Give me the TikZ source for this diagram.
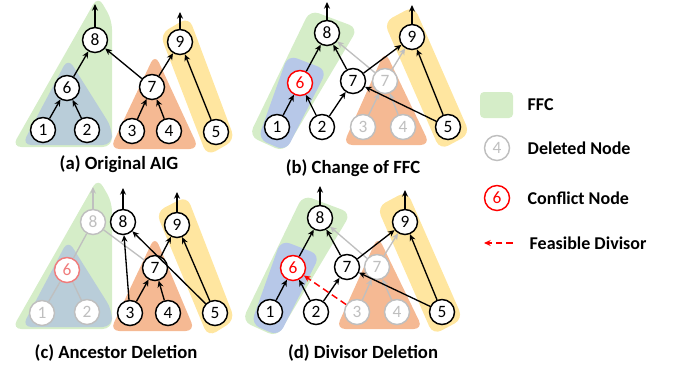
\documentclass[tikz,border=0pt]{standalone}
\usepackage{fontspec}
\setmainfont{Carlito}
\usetikzlibrary{arrows.meta}

\definecolor{ffcgreen}{HTML}{D5EDC8}
\definecolor{ffcblue}{HTML}{B9CDD9}
\definecolor{ffclav}{HTML}{B7C8E8}
\definecolor{ffcorange}{HTML}{F5B993}
\definecolor{ffcyellow}{HTML}{FFE6A0}
\definecolor{delgray}{HTML}{BFBFBF}
\definecolor{softred}{HTML}{F07C7C}

\tikzset{
  gate/.style={circle,draw,line width=1.1pt,fill=white,minimum size=18.75pt,
    inner sep=0pt,font=\fontsize{13}{13}\selectfont},
  deleted/.style={gate,draw=delgray,text=delgray},
  conflict/.style={gate,draw=red,text=red},
  wire/.style={-{Stealth[length=5pt,width=4.5pt]},line width=1pt},
  delwire/.style={wire,draw=delgray},
  divisor/.style={-{Stealth[length=5pt,width=4.5pt]},line width=1.1pt,red,dash pattern=on 5pt off 3pt},
  region/.style={rounded corners=7pt},
  caption/.style={font=\fontsize{14}{14}\selectfont\bfseries},
  legend/.style={anchor=west,font=\fontsize{13.5}{13.5}\selectfont\bfseries},
}

\begin{document}
\begin{tikzpicture}[x=0.75pt,y=-0.75pt]
  \useasboundingbox (0,0) rectangle (681,372);

  % cones behind the graphs
  \fill[ffcgreen,region]  (12,147) -- (98,-4) -- (112,20) -- (112,147) -- cycle;
  \fill[ffcblue,region]   (22,145) -- (68,58) -- (112,128) -- (112,145) -- cycle;
  \fill[ffcorange,region] (110,149) -- (155,54) -- (199,149) -- cycle;
  \fill[ffcyellow,region] (160,34) -- (189,17) -- (235,140) -- (207,156) -- cycle;

  \fill[ffcgreen,region]  (310,10) -- (358,28) -- (284,152) -- (249,136) -- cycle;
  \fill[ffclav,region]    (288,55) -- (327,70) -- (286,151) -- (258,139) -- cycle;
  \fill[ffcorange,region] (343,145) -- (385,51) -- (430,145) -- cycle;
  \fill[ffcyellow,region] (384,22) -- (414,6) -- (470,134) -- (440,150) -- cycle;

  \fill[ffcgreen,region]  (12,329) -- (98,178) -- (112,202) -- (112,329) -- cycle;
  \fill[ffcblue,region]   (22,327) -- (68,240) -- (112,310) -- (112,327) -- cycle;
  \fill[ffcorange,region] (110,331) -- (155,236) -- (195,331) -- cycle;
  \fill[ffcyellow,region] (156,212) -- (187,196) -- (235,320) -- (208,337) -- cycle;

  \fill[ffcgreen,region]  (303,195) -- (351,213) -- (277,337) -- (242,321) -- cycle;
  \fill[ffclav,region]    (281,240) -- (320,255) -- (279,336) -- (251,324) -- cycle;
  \fill[ffcorange,region] (336,329) -- (378,236) -- (423,329) -- cycle;
  \fill[ffcyellow,region] (377,207) -- (407,191) -- (463,319) -- (433,335) -- cycle;

  % (a)
  \node[gate] (a8) at (95,40)  {8};
  \node[gate] (a9) at (180,42) {9};
  \node[gate] (a6) at (67,88)  {6};
  \node[gate] (a7) at (152,87) {7};
  \node[gate] (a1) at (43,130) {1};
  \node[gate] (a2) at (87,130) {2};
  \node[gate] (a3) at (132,131) {3};
  \node[gate] (a4) at (169,131) {4};
  \node[gate] (a5) at (216,132) {5};
  \coordinate (a8o) at (95,4);
  \coordinate (a9o) at (180,12);

  \draw[wire] (a1) -- (a6);
  \draw[wire] (a2) -- (a6);
  \draw[wire] (a6) -- (a8);
  \draw[wire] (a7) -- (a8);
  \draw[wire] (a7) -- (a9);
  \draw[wire] (a3) -- (a7);
  \draw[wire] (a4) -- (a7);
  \draw[wire] (a5) -- (a9);
  \draw[wire] (a8) -- (a8o);
  \draw[wire] (a9) -- (a9o);

  % (b)
  \node[gate]     (b8)  at (327,33)  {8};
  \node[gate]     (b9)  at (412,37)  {9};
  \node[conflict] (b6)  at (300,83)  {6};
  \node[gate]     (b7)  at (353,81)  {7};
  \node[deleted]  (b7g) at (385,81)  {7};
  \node[gate]     (b1)  at (277,127) {1};
  \node[gate]     (b2)  at (322,127) {2};
  \node[deleted]  (b3)  at (363,127) {3};
  \node[deleted]  (b4)  at (403,127) {4};
  \node[gate]     (b5)  at (448,127) {5};
  \coordinate (b8o) at (327,2);
  \coordinate (b9o) at (412,5);

  \draw[delwire] (b7g) -- (b8);
  \draw[delwire] (b7g) -- (b9);
  \draw[delwire] (b3) -- (b7g);
  \draw[delwire] (b4) -- (b7g);
  \draw[wire] (b1) -- (b6);
  \draw[wire] (b2) -- (b6);
  \draw[wire] (b6) -- (b8);
  \draw[wire] (b7) -- (b8);
  \draw[wire] (b7) -- (b9);
  \draw[wire] (b2) -- (b7);
  \draw[wire] (b5) -- (b7);
  \draw[wire] (b5) -- (b9);
  \draw[wire] (b8) -- (b8o);
  \draw[wire] (b9) -- (b9o);

  % (c)
  \node[deleted] (c8g) at (93,222) {8};
  \node[gate]    (c8)  at (123,222) {8};
  \node[gate]    (c9)  at (177,225) {9};
  \node[gate,draw=softred,text=softred] (c6) at (67,270) {6};
  \node[gate]    (c7)  at (155,268) {7};
  \node[deleted] (c1)  at (42,313)  {1};
  \node[deleted] (c2)  at (87,312)  {2};
  \node[gate]    (c3)  at (130,313) {3};
  \node[gate]    (c4)  at (168,313) {4};
  \node[gate]    (c5)  at (215,313) {5};
  \coordinate (c8go) at (93,187);
  \coordinate (c8o)  at (123,188);
  \coordinate (c9o)  at (177,192);

  \draw[delgray,line width=1pt] (c1) -- (c6);
  \draw[delgray,line width=1pt] (c2) -- (c6);
  \draw[delgray,line width=1pt] (c6) -- (c8g);
  \draw[delgray,line width=1pt] (c7) -- (c8g);
  \draw[delwire] (c8g) -- (c8go);
  \draw[wire] (c3) -- (c8);
  \draw[wire] (c3) -- (c7);
  \draw[wire] (c4) -- (c7);
  \draw[wire] (c7) -- (c9);
  \draw[wire] (c5) -- (c9);
  \draw[wire] (c5) -- (c8);
  \draw[wire] (c8) -- (c8o);
  \draw[wire] (c9) -- (c9o);

  % (d)
  \node[gate]     (d8)  at (320,218) {8};
  \node[gate]     (d9)  at (405,222) {9};
  \node[conflict] (d6)  at (293,268) {6};
  \node[gate]     (d7)  at (347,267) {7};
  \node[deleted]  (d7g) at (377,267) {7};
  \node[gate]     (d1)  at (270,312) {1};
  \node[gate]     (d2)  at (316,312) {2};
  \node[deleted]  (d3)  at (357,312) {3};
  \node[deleted]  (d4)  at (397,312) {4};
  \node[gate]     (d5)  at (442,312) {5};
  \coordinate (d8o) at (320,186);
  \coordinate (d9o) at (405,190);

  \draw[delwire] (d7g) -- (d8);
  \draw[delwire] (d7g) -- (d9);
  \draw[delwire] (d3) -- (d7g);
  \draw[delwire] (d4) -- (d7g);
  \draw[wire] (d1) -- (d6);
  \draw[wire] (d2) -- (d6);
  \draw[wire] (d6) -- (d8);
  \draw[wire] (d7) -- (d8);
  \draw[wire] (d7) -- (d9);
  \draw[wire] (d2) -- (d7);
  \draw[wire] (d5) -- (d7);
  \draw[wire] (d5) -- (d9);
  \draw[wire] (d8) -- (d8o);
  \draw[wire] (d9) -- (d9o);
  \draw[divisor] (d3) -- (d6);

  % captions
  \node[caption] (capa) at (119,164) {(a) Original AIG};
  \node[caption] (capb) at (353,168) {(b) Change of FFC};
  \node[caption] (capc) at (116,353) {(c) Ancestor Deletion};
  \node[caption] (capd) at (363,353) {(d) Divisor Deletion};

  % legend
  \fill[ffcgreen,rounded corners=3pt] (480,92) rectangle (513,118);
  \node[deleted]  (legdel) at (497,148) {4};
  \node[conflict] (legcon) at (497,198) {6};
  \coordinate (legfrom) at (513,243);
  \coordinate (legto)   at (484,243);
  \draw[divisor] (legfrom) -- (legto);
  \node[legend] (txtffc) at (523,105) {FFC};
  \node[legend] (txtdel) at (523,148) {Deleted Node};
  \node[legend] (txtcon) at (523,198) {Conflict Node};
  \node[legend] (txtdiv) at (525,243) {Feasible Divisor};
\end{tikzpicture}
\end{document}
